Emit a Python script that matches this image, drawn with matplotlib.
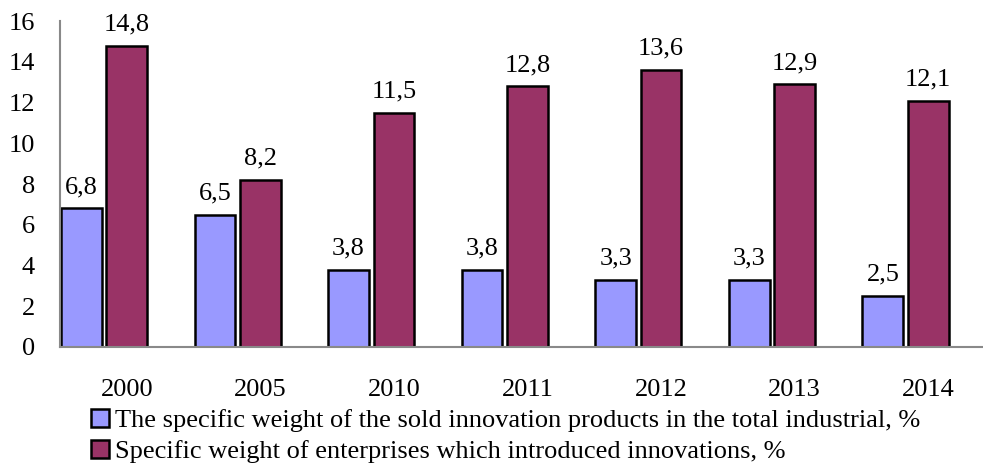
import numpy as np
import matplotlib.pyplot as plt
from matplotlib.patches import Patch

years = ["2000", "2005", "2010", "2011", "2012", "2013", "2014"]
sold_share = [6.8, 6.5, 3.8, 3.8, 3.3, 3.3, 2.5]
enterprise_share = [14.8, 8.2, 11.5, 12.8, 13.6, 12.9, 12.1]
labels = [
    "The specific weight of the sold innovation products in the total industrial, %",
    "Specific weight of enterprises which introduced innovations, %",
]

BLUE = "#9999FF"
MAROON = "#993366"
AXIS_GRAY = "#898989"
FS = 19

plt.rcParams["font.family"] = ["Liberation Serif", "DejaVu Serif"]

fig = plt.figure(figsize=(9.83, 4.70), dpi=100)
ax = fig.add_axes([0.061, 0.262, 0.939, 0.693])

x = np.arange(len(years))
width = 0.305
ax.bar(x - 0.17, sold_share, width, color=BLUE, edgecolor="black", linewidth=1.8)
ax.bar(x + 0.17, enterprise_share, width, color=MAROON, edgecolor="black", linewidth=1.8)


def fmt(v):
    return f"{v:.1f}".replace(".", ",")


for xi, v in zip(x - 0.17, sold_share):
    ax.annotate(fmt(v), (xi, v), xytext=(0, 11), textcoords="offset points",
                ha="center", va="baseline", fontsize=FS)
for xi, v in zip(x + 0.17, enterprise_share):
    ax.annotate(fmt(v), (xi, v), xytext=(0, 11), textcoords="offset points",
                ha="center", va="baseline", fontsize=FS)

ax.set_xlim(-0.33, 6.58)
ax.set_ylim(0, 16)
ax.set_yticks(range(0, 17, 2))
ax.set_xticks(x + 0.17)
ax.set_xticklabels(years)
ax.tick_params(axis="y", length=0, pad=18, labelsize=FS)
ax.tick_params(axis="x", length=0, pad=23, labelsize=FS)

for side in ("top", "right"):
    ax.spines[side].set_visible(False)
for side in ("left", "bottom"):
    ax.spines[side].set_color(AXIS_GRAY)
    ax.spines[side].set_linewidth(1.5)

handles = [
    Patch(facecolor=BLUE, edgecolor="black", linewidth=1.8),
    Patch(facecolor=MAROON, edgecolor="black", linewidth=1.8),
]
fig.legend(handles, labels, loc="upper left", bbox_to_anchor=(0.093, 0.13),
           bbox_transform=fig.transFigure, frameon=False, fontsize=FS,
           handlelength=0.65, handleheight=0.65, handletextpad=0.25,
           labelspacing=0.32, borderpad=0, borderaxespad=0)

fig.savefig("out.png", dpi=100)
